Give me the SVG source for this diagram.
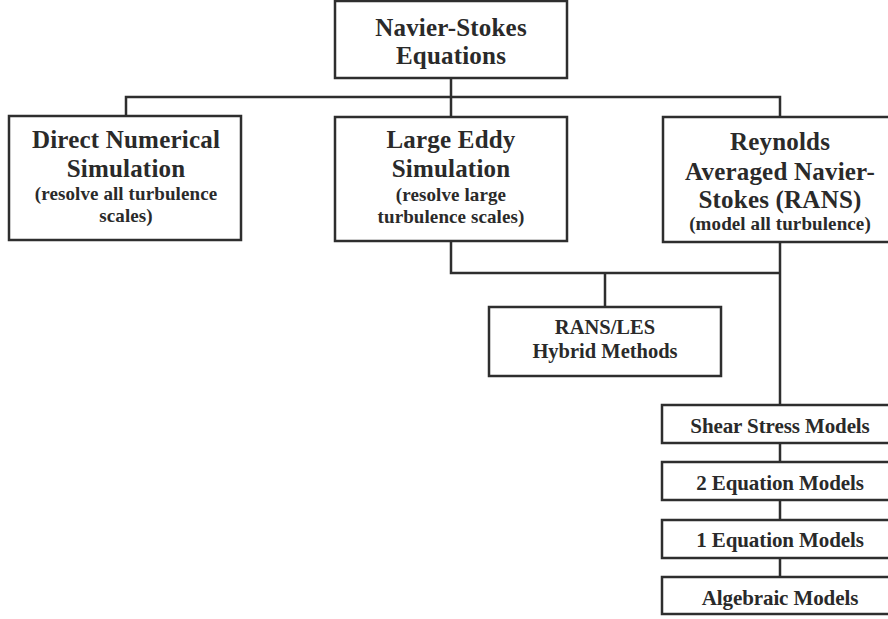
<svg xmlns="http://www.w3.org/2000/svg" width="888" height="619" viewBox="0 0 888 619">
<style>
.box{fill:#fff;stroke:#2e2e2e;stroke-width:2.5}
.c{fill:none;stroke:#2e2e2e;stroke-width:2.5}
text{font-family:"Liberation Serif","Times New Roman",serif;font-weight:bold;fill:#2a2a2a;text-anchor:middle}
.L{font-size:25px;letter-spacing:0.2px}
.S{font-size:19px;letter-spacing:0.1px}
.M{font-size:20.5px;letter-spacing:0px}
.m{font-size:21px;letter-spacing:-0.1px}
</style>
<rect width="888" height="619" fill="#fff"/>
<g id="connectors">
<path class="c" d="M451 78V117M126 117V97H780V117"/>
<path class="c" d="M451 241V273H780M780 242V405M605 273V307"/>
<path class="c" d="M780 443V462M780 500V520M780 558V577"/>
</g>
<g id="navier-stokes">
<rect class="box" x="335" y="1" width="232" height="77"/>
<text class="L" x="451" y="36">Navier-Stokes</text>
<text class="L" x="451" y="64">Equations</text>
</g>
<g id="dns">
<rect class="box" x="9" y="116" width="232" height="124"/>
<text class="L" x="126" y="148">Direct Numerical</text>
<text class="L" x="126" y="177">Simulation</text>
<text class="S" x="126" y="200">(resolve all turbulence</text>
<text class="S" x="126" y="222">scales)</text>
</g>
<g id="les">
<rect class="box" x="335" y="117" width="232" height="124"/>
<text class="L" x="451" y="148">Large Eddy</text>
<text class="L" x="451" y="177">Simulation</text>
<text class="S" x="451" y="201">(resolve large</text>
<text class="S" x="451" y="223">turbulence scales)</text>
</g>
<g id="rans">
<rect class="box" x="663" y="117" width="236" height="125"/>
<text class="L" x="780" y="150">Reynolds</text>
<text class="L" x="780" y="180">Averaged Navier-</text>
<text class="L" x="780" y="208">Stokes (RANS)</text>
<text class="S" x="780" y="230">(model all turbulence)</text>
</g>
<g id="hybrid">
<rect class="box" x="489" y="307" width="232" height="69"/>
<text class="M" x="605" y="334">RANS/LES</text>
<text class="M" x="605" y="358">Hybrid Methods</text>
</g>
<g id="shear">
<rect class="box" x="662" y="405" width="237" height="38"/>
<text class="m" x="780" y="433">Shear Stress Models</text>
</g>
<g id="eq2">
<rect class="box" x="662" y="462" width="237" height="38"/>
<text class="m" x="780" y="490">2 Equation Models</text>
</g>
<g id="eq1">
<rect class="box" x="662" y="520" width="237" height="38"/>
<text class="m" x="780" y="547">1 Equation Models</text>
</g>
<g id="algebraic">
<rect class="box" x="662" y="577" width="237" height="37"/>
<text class="m" x="780" y="605">Algebraic Models</text>
</g>
</svg>
